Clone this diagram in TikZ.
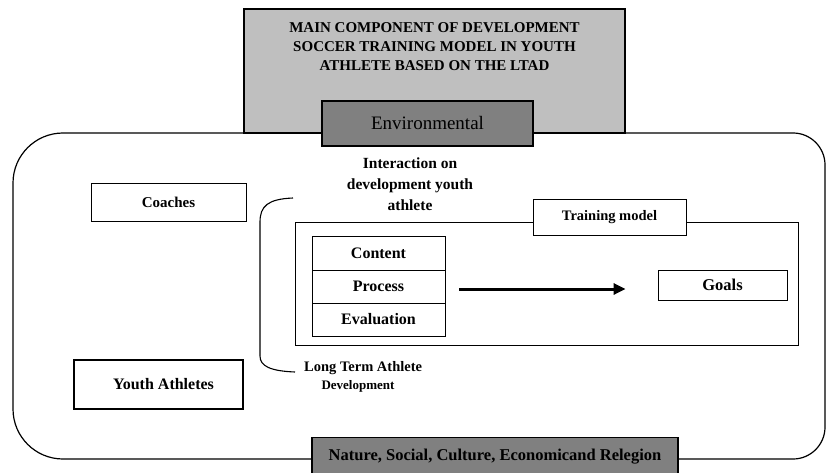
\documentclass[tikz,border=0pt]{standalone}
\usepackage{fontspec}
\setmainfont{Liberation Serif}
\usetikzlibrary{arrows.meta}
\tikzset{
  box/.style={draw, fill=white, line width=0.9pt, inner sep=0pt},
  graybox/.style={draw, line width=1.4pt, inner sep=0pt},
  lbl/.style={inner sep=0pt, align=center},
  bfs/.style={font=\bfseries\fontsize{#1}{#1}\selectfont},
}
\begin{document}
\begin{tikzpicture}[x=1pt,y=-1pt]
\useasboundingbox (0,0) rectangle (826,473);
% outer environment frame
\draw[line width=1.2pt] (400,133) [rounded corners=32pt] -- (825,133) -- (825,459) -- (400,459) [rounded corners=50pt] -- (13,459) -- (13,133) -- cycle;
% title
\node[graybox, fill=black!25, line width=1.8pt, minimum width=381pt, minimum height=124pt] (title) at (434.5,71) {};
\node[lbl, font=\bfseries\fontsize{15}{19}\selectfont] (titletext) at (434.5,46.5) {MAIN COMPONENT OF DEVELOPMENT\\SOCCER TRAINING MODEL IN YOUTH\\ATHLETE BASED ON THE LTAD};
\node[graybox, fill=black!50, minimum width=211pt, minimum height=45pt, font=\fontsize{19}{22}\selectfont] (env) at (427.5,123.5) {Environmental};
% bottom box
\node[graybox, fill=black!50, minimum width=366pt, minimum height=38pt, bfs=16.5] (nature) at (495,456.5) {Nature, Social, Culture, Economicand Relegion};
% left boxes
\node[box, minimum width=155pt, minimum height=38pt, bfs=15] (coaches) at (168.5,202) {Coaches};
\node[box, line width=1.1pt, minimum width=169pt, minimum height=49pt, bfs=16] (youth) at (158.5,384.5) {\hspace*{10pt}Youth Athletes};
% interaction text
\node[lbl, font=\bfseries\fontsize{15.5}{21}\selectfont] (interaction) at (410,184) {Interaction on\\development youth\\athlete};
% bracket
\coordinate (btop) at (293,198);
\coordinate (bbot) at (295,372);
\draw[line width=1.1pt] (btop) .. controls (268,199) and (260,206) .. (260,222) -- (260,356) .. controls (260,366) and (270,371) .. (bbot);
\node[lbl, anchor=west, bfs=14.5] (lta) at (304,368) {Long Term Athlete};
\node[lbl, bfs=13] (ltadev) at (358,386) {Development};
% training model frame
\node[draw, line width=0.7pt, minimum width=503pt, minimum height=123pt, inner sep=0pt] (frame) at (546.5,283.5) {};
\node[box, minimum width=153pt, minimum height=36pt, bfs=14.5] (tmodel) at (609.5,217) {Training model};
% stack
\node[box, minimum width=133pt, minimum height=34pt, bfs=16] (content) at (378.5,253) {Content};
\node[box, minimum width=133pt, minimum height=33pt, bfs=16] (process) at (378.5,286.5) {Process};
\node[box, minimum width=133pt, minimum height=33pt, bfs=16] (evaluation) at (378.5,319.5) {Evaluation};
\node[box, minimum width=129pt, minimum height=30pt, bfs=16.5] (goals) at (722.5,285) {Goals};
\coordinate (astart) at ([xshift=14pt,yshift=-2.5pt]process.east);
\draw[line width=3pt, -{Triangle[length=12pt,width=11pt]}] (astart) -- ([xshift=-32pt]astart -| goals.west);
\end{tikzpicture}
\end{document}
